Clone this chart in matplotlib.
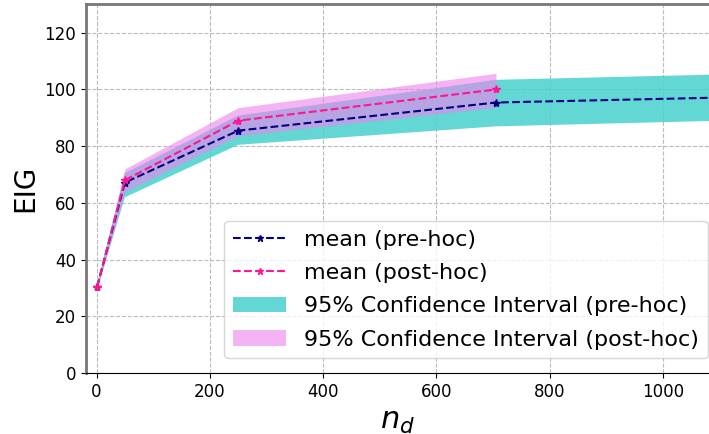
import matplotlib.pyplot as plt

# data
n_d = [1, 50, 250, 705, 1500]
pre_mean = [30.5, 67.2, 85.5, 95.4, 98.9]
pre_low = [29.5, 62.0, 80.5, 87.0, 91.0]
pre_high = [31.5, 70.5, 90.8, 103.4, 107.2]

n_d_post = [1, 50, 250, 705]
post_mean = [30.5, 68.0, 89.0, 100.0]
post_low = [29.5, 64.0, 83.7, 93.7]
post_high = [31.5, 72.0, 93.6, 105.7]

fig = plt.figure(figsize=(7.09, 4.34), dpi=100)
ax = fig.add_axes([0.121, 0.14, 0.879, 0.85])

ax.fill_between(n_d, pre_low, pre_high, color='mediumturquoise', alpha=0.85,
                linewidth=0, label='95% Confidence Interval (pre-hoc)')
ax.fill_between(n_d_post, post_low, post_high, color='violet', alpha=0.6,
                linewidth=0, label='95% Confidence Interval (post-hoc)')
ax.plot(n_d, pre_mean, '--*', color='navy', label='mean (pre-hoc)')
ax.plot(n_d_post, post_mean, '--*', color='deeppink', label='mean (post-hoc)')

ax.set_xlim(-19, 1081)
ax.set_ylim(0, 130)
ax.set_yticks(range(0, 121, 20))
ax.grid(True, linestyle='--', color='#bbbbbb', linewidth=0.8)
ax.set_axisbelow(True)
ax.tick_params(labelsize=12)

ax.spines['right'].set_visible(False)
for s in ['left', 'top']:
    ax.spines[s].set_color('#777777')
    ax.spines[s].set_linewidth(2)

ax.set_xlabel('$n_d$', fontsize=22)
ax.set_ylabel('EIG', fontsize=20)

h, l = ax.get_legend_handles_labels()
order = [2, 3, 0, 1]
ax.legend([h[i] for i in order], [l[i] for i in order], loc='lower right',
          fontsize=16, bbox_to_anchor=(1.016, 0.01), handlelength=2.4,
          markerscale=0.8, labelspacing=0.6)

fig.savefig('out.png')
